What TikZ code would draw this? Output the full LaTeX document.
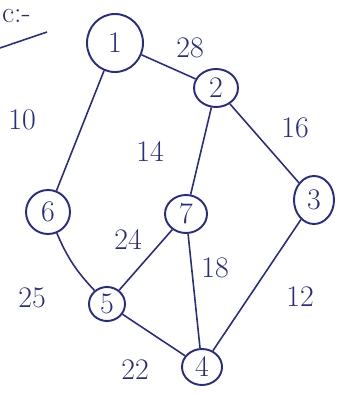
\documentclass[tikz,border=0pt]{standalone}
\usetikzlibrary{shapes.geometric}
\definecolor{ink}{RGB}{40,44,135}
\tikzset{
  vertex/.style={draw=ink, ellipse, line width=1.1pt, inner sep=0pt, text=ink, font=\fontsize{17}{18}\selectfont},
  edge/.style={draw=ink, line width=0.9pt},
  weight/.style={text=ink, font=\fontsize{17}{18}\selectfont}
}
\begin{document}
\begin{tikzpicture}[x=1cm,y=1cm]
        \useasboundingbox (0,0) rectangle (6.84,7.88);

        % heading fragment
        \node[weight, anchor=west, inner sep=1pt] (head) at (0,7.56) {c:-};
        \draw[edge] (0,6.92) -- (0.94,7.24);

        % vertices
        \node[vertex, minimum width=1.12cm, minimum height=1.16cm] (n1) at (2.30,7.02) {1};
        \node[vertex, minimum width=0.88cm, minimum height=0.76cm] (n2) at (4.32,6.12) {2};
        \node[vertex, minimum width=0.80cm, minimum height=0.96cm] (n3) at (6.28,3.88) {3};
        \node[vertex, minimum width=0.88cm, minimum height=0.88cm] (n6) at (0.96,3.64) {6};
        \node[vertex, minimum width=0.84cm, minimum height=0.76cm] (n7) at (3.72,3.60) {7};
        \node[vertex, minimum width=0.72cm, minimum height=0.68cm] (n5) at (2.14,1.80) {5};
        \node[vertex, minimum width=0.80cm, minimum height=0.72cm] (n4) at (4.04,0.54) {4};

        % edges
        \draw[edge] (n1) -- (n2);
        \draw[edge] (n1) -- (n6);
        \draw[edge] (n2) -- (n7);
        \draw[edge] (n2) -- (n3);
        \draw[edge] (n6) to[bend right=10] (n5);
        \draw[edge] (n7) -- (n5);
        \draw[edge] (n7) -- (n4);
        \draw[edge] (n3) -- (n4);
        \draw[edge] (n5) -- (n4);

        % weights
        \node[weight] (w12) at (3.80,6.92) {28};
        \node[weight] (w16) at (0.44,5.48) {10};
        \node[weight] (w27) at (3.00,4.84) {14};
        \node[weight] (w23) at (5.90,5.32) {16};
        \node[weight] (w75) at (2.56,3.08) {24};
        \node[weight] (w74) at (4.30,2.52) {18};
        \node[weight] (w65) at (0.64,1.92) {25};
        \node[weight] (w34) at (6.00,1.94) {12};
        \node[weight] (w54) at (2.70,0.48) {22};
    \end{tikzpicture}
\end{document}
